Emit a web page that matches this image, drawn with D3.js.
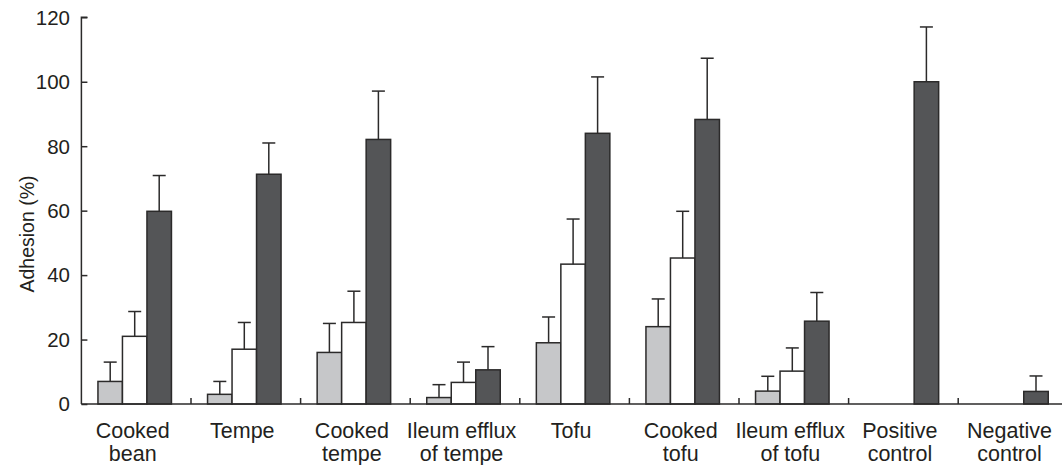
<!DOCTYPE html>
<html>
<head>
<meta charset="utf-8">
<script src="https://cdn.jsdelivr.net/npm/d3@7"></script>
<style>
  html, body { margin: 0; padding: 0; background: #fff; }
  svg { display: block; }
  text { font-family: "Liberation Sans", Arial, Helvetica, sans-serif; fill: #231f20; }
</style>
</head>
<body>
<svg id="chart" width="1062" height="465"></svg>
<script>
// ---- data ----
const categories = [
  ["Cooked", "bean"], ["Tempe"], ["Cooked", "tempe"], ["Ileum efflux", "of tempe"],
  ["Tofu"], ["Cooked", "tofu"], ["Ileum efflux", "of tofu"], ["Positive", "control"], ["Negative", "control"]
];
const greyValues  = [7, 3, 16, 2, 19, 24, 4, null, null];
const greyErrors  = [13, 7, 25, 6, 27, 32.6, 8.6, null, null];
const whiteValues = [21, 17, 25.3, 6.7, 43.4, 45.3, 10.2, null, null];
const whiteErrors = [28.7, 25.3, 35, 13, 57.4, 59.8, 17.4, null, null];
const darkValues  = [59.8, 71.3, 82.1, 10.6, 84, 88.3, 25.7, 100, 3.9];
const darkErrors  = [70.9, 81, 97.1, 17.8, 101.5, 107.3, 34.6, 117, 8.7];
const yTicks = [0, 20, 40, 60, 80, 100, 120];
const yLabel = "Adhesion (%)";

const fills = ["#c6c7c9", "#ffffff", "#545557"];
const series = [
  { values: greyValues,  errors: greyErrors },
  { values: whiteValues, errors: whiteErrors },
  { values: darkValues,  errors: darkErrors }
];

// ---- layout ----
const svg = d3.select("#chart");
const x0 = 81.4, x1 = 81.4 + 109.6 * categories.length;
const yTop = 17.3, yBot = 404;

const x = d3.scaleBand().domain(d3.range(categories.length)).range([x0, x1]).paddingInner(0).paddingOuter(0);
const y = d3.scaleLinear().domain([0, 120]).range([yBot, yTop]);
const barW = 24.5;
const sub = d3.scaleBand().domain(d3.range(3)).range([0, barW * 3]);
const groupOffset = (x.bandwidth() - barW * 3) / 2 - 1.5;

const ink = "#2b2a2a";

// bars
series.forEach((s, si) => {
  const g = svg.append("g");
  const data = s.values.map((v, i) => ({ i, v, e: s.errors[i] })).filter(d => d.v != null);
  g.selectAll("rect").data(data).join("rect")
    .attr("x", d => x(d.i) + groupOffset + sub(si))
    .attr("y", d => y(d.v))
    .attr("width", barW)
    .attr("height", d => y(0) - y(d.v))
    .attr("fill", fills[si])
    .attr("stroke", ink)
    .attr("stroke-width", 1.5);
  g.selectAll("line.err").data(data).join("line")
    .attr("class", "err")
    .attr("x1", d => x(d.i) + groupOffset + sub(si) + barW / 2)
    .attr("x2", d => x(d.i) + groupOffset + sub(si) + barW / 2)
    .attr("y1", d => y(d.v))
    .attr("y2", d => y(d.e))
    .attr("stroke", ink).attr("stroke-width", 1.5);
  g.selectAll("line.cap").data(data).join("line")
    .attr("class", "cap")
    .attr("x1", d => x(d.i) + groupOffset + sub(si) + barW / 2 - 6.5)
    .attr("x2", d => x(d.i) + groupOffset + sub(si) + barW / 2 + 6.5)
    .attr("y1", d => y(d.e))
    .attr("y2", d => y(d.e))
    .attr("stroke", ink).attr("stroke-width", 1.5);
});

// y axis (ticks point inward)
const yAxis = d3.axisRight(y).tickValues(yTicks).tickSize(6).tickFormat("");
const gy = svg.append("g").attr("transform", `translate(${x0},0)`).call(yAxis);
gy.select(".domain").attr("d", `M6,${yTop}H0V${yBot}`).attr("stroke", ink).attr("stroke-width", 1.5);
gy.selectAll(".tick line").attr("stroke", ink).attr("stroke-width", 1.5);
svg.append("g").selectAll("text").data(yTicks).join("text")
  .attr("x", 70).attr("y", d => y(d)).attr("dy", "0.36em")
  .attr("text-anchor", "end").attr("font-size", 20.5).text(d => d);

// x axis
svg.append("line").attr("x1", x0).attr("x2", 1062).attr("y1", yBot).attr("y2", yBot)
  .attr("stroke", ink).attr("stroke-width", 1.5);
const boundaries = d3.range(1, categories.length).map(i => x(i));
svg.append("g").selectAll("line").data(boundaries).join("line")
  .attr("x1", d => d).attr("x2", d => d).attr("y1", yBot).attr("y2", yBot - 6)
  .attr("stroke", ink).attr("stroke-width", 1.5);

// category labels
const lab = svg.append("g").selectAll("text").data(categories).join("text")
  .attr("text-anchor", "middle").attr("font-size", 21.5)
  .attr("transform", (d, i) => `translate(${x(i) + x.bandwidth() / 2 - 3.5},0)`);
lab.selectAll("tspan").data(d => d).join("tspan")
  .attr("x", 0).attr("y", (d, j) => 437.5 + j * 23.5).text(d => d);

// y label
svg.append("text")
  .attr("transform", `translate(34,234) rotate(-90)`)
  .attr("text-anchor", "middle").attr("font-size", 19.5).text(yLabel);
</script>
</body>
</html>
